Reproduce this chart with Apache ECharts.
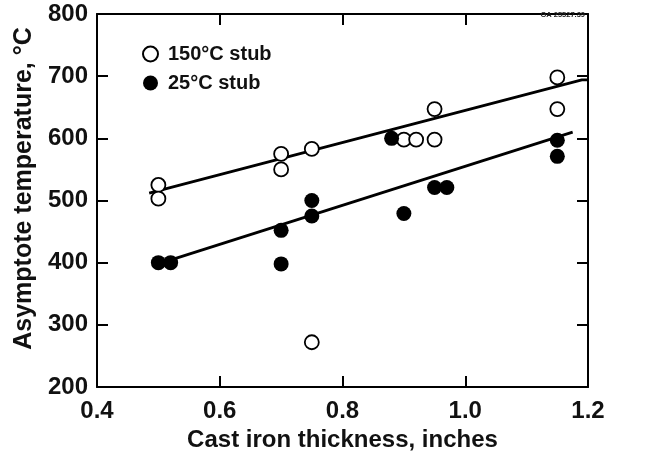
<!DOCTYPE html>
<html>
<head>
<meta charset="utf-8">
<script src="https://cdn.jsdelivr.net/npm/echarts@6/dist/echarts.min.js"></script>
<style>
  html, body { margin: 0; padding: 0; background: #fff; }
  #chart { width: 664px; height: 458px; }
</style>
</head>
<body>
<div id="chart"></div>
<script>
// 150°C stub (open circles)
const stub150X = [0.50, 0.50, 0.70, 0.70, 0.75, 0.75, 0.90, 0.92, 0.95, 0.95, 1.15, 1.15]
const stub150Y = [525, 503, 575, 550, 583, 272, 598, 598, 598, 647, 698, 647]
// 25°C stub (filled circles)
const stub25X = [0.50, 0.52, 0.70, 0.70, 0.75, 0.75, 0.88, 0.90, 0.95, 0.97, 1.15, 1.15]
const stub25Y = [400, 400, 452, 398, 500, 475, 600, 479, 521, 521, 597, 571]
// fitted lines
const fit150X = [0.485, 1.19, 1.2]
const fit150Y = [512, 694, 694]
const fit25X = [0.5, 1.175]
const fit25Y = [398, 610]

const xTicks = [0.4, 0.6, 0.8, 1.0, 1.2]
const yTicks = [200, 300, 400, 500, 600, 700, 800]

const font = 'Liberation Sans'
const pair = (xs, ys) => xs.map((x, i) => [x, ys[i]])

const chart = echarts.init(document.getElementById('chart'))

const baseX = {
  type: 'value', min: xTicks[0], max: xTicks[xTicks.length - 1], interval: 0.2,
  axisLine: { onZero: false, lineStyle: { color: '#000', width: 2 } },
  axisTick: { inside: true, length: 11, lineStyle: { color: '#000', width: 2 } },
  splitLine: { show: false }
}
const baseY = {
  type: 'value', min: yTicks[0], max: yTicks[yTicks.length - 1], interval: 100,
  axisLine: { onZero: false, lineStyle: { color: '#000', width: 2 } },
  axisTick: { inside: true, length: 11, lineStyle: { color: '#000', width: 2 } },
  splitLine: { show: false }
}

chart.setOption({
  animation: false,
  backgroundColor: '#fff',
  grid: { left: 97, right: 76, top: 14, bottom: 71 },
  legend: {
    orient: 'vertical', left: 137, top: 39, itemGap: 9,
    itemWidth: 15, itemHeight: 15,
    data: ['150°C stub', '25°C stub'],
    textStyle: { fontFamily: font, fontWeight: 'bold', fontSize: 20, color: '#111', padding: [0, 0, 0, 5] }
  },
  title: {
    text: 'GA 25527.39', right: 74, top: 6,
    textStyle: { fontFamily: font, fontSize: 7.5, fontWeight: 'bold', color: '#222' }
  },
  xAxis: [
    Object.assign({}, baseX, {
      position: 'bottom',
      name: 'Cast iron thickness, inches', nameLocation: 'middle', nameGap: 28,
      nameTextStyle: { fontFamily: font, fontWeight: 'bold', fontSize: 24, color: '#111' },
      axisLabel: {
        margin: 12, fontFamily: font, fontWeight: 'bold', fontSize: 24, color: '#111',
        formatter: v => v.toFixed(1)
      }
    }),
    Object.assign({}, baseX, { position: 'top', axisLabel: { show: false } })
  ],
  yAxis: [
    Object.assign({}, baseY, {
      position: 'left',
      name: 'Asymptote temperature, °C', nameLocation: 'middle', nameGap: 60,
      nameTextStyle: { fontFamily: font, fontWeight: 'bold', fontSize: 25, color: '#111', padding: [0, 0, 0, 24] },
      axisLabel: { margin: 9, fontFamily: font, fontWeight: 'bold', fontSize: 24, color: '#111', padding: [8, 0, 0, 0] }
    }),
    Object.assign({}, baseY, { position: 'right', axisLabel: { show: false } })
  ],
  series: [
    {
      name: 'fit150', type: 'line', data: pair(fit150X, fit150Y),
      symbol: 'none', lineStyle: { color: '#000', width: 2.8 }, z: 1
    },
    {
      name: 'fit25', type: 'line', data: pair(fit25X, fit25Y),
      symbol: 'none', lineStyle: { color: '#000', width: 2.8 }, z: 1
    },
    {
      name: '150°C stub', type: 'scatter', data: pair(stub150X, stub150Y),
      symbol: 'circle', symbolSize: 14,
      itemStyle: { color: '#fff', borderColor: '#000', borderWidth: 1.8, opacity: 1 }, z: 3
    },
    {
      name: '25°C stub', type: 'scatter', data: pair(stub25X, stub25Y),
      symbol: 'circle', symbolSize: 15,
      itemStyle: { color: '#000', borderColor: '#000', borderWidth: 0, opacity: 1 }, z: 3
    }
  ]
})
</script>
</body>
</html>
